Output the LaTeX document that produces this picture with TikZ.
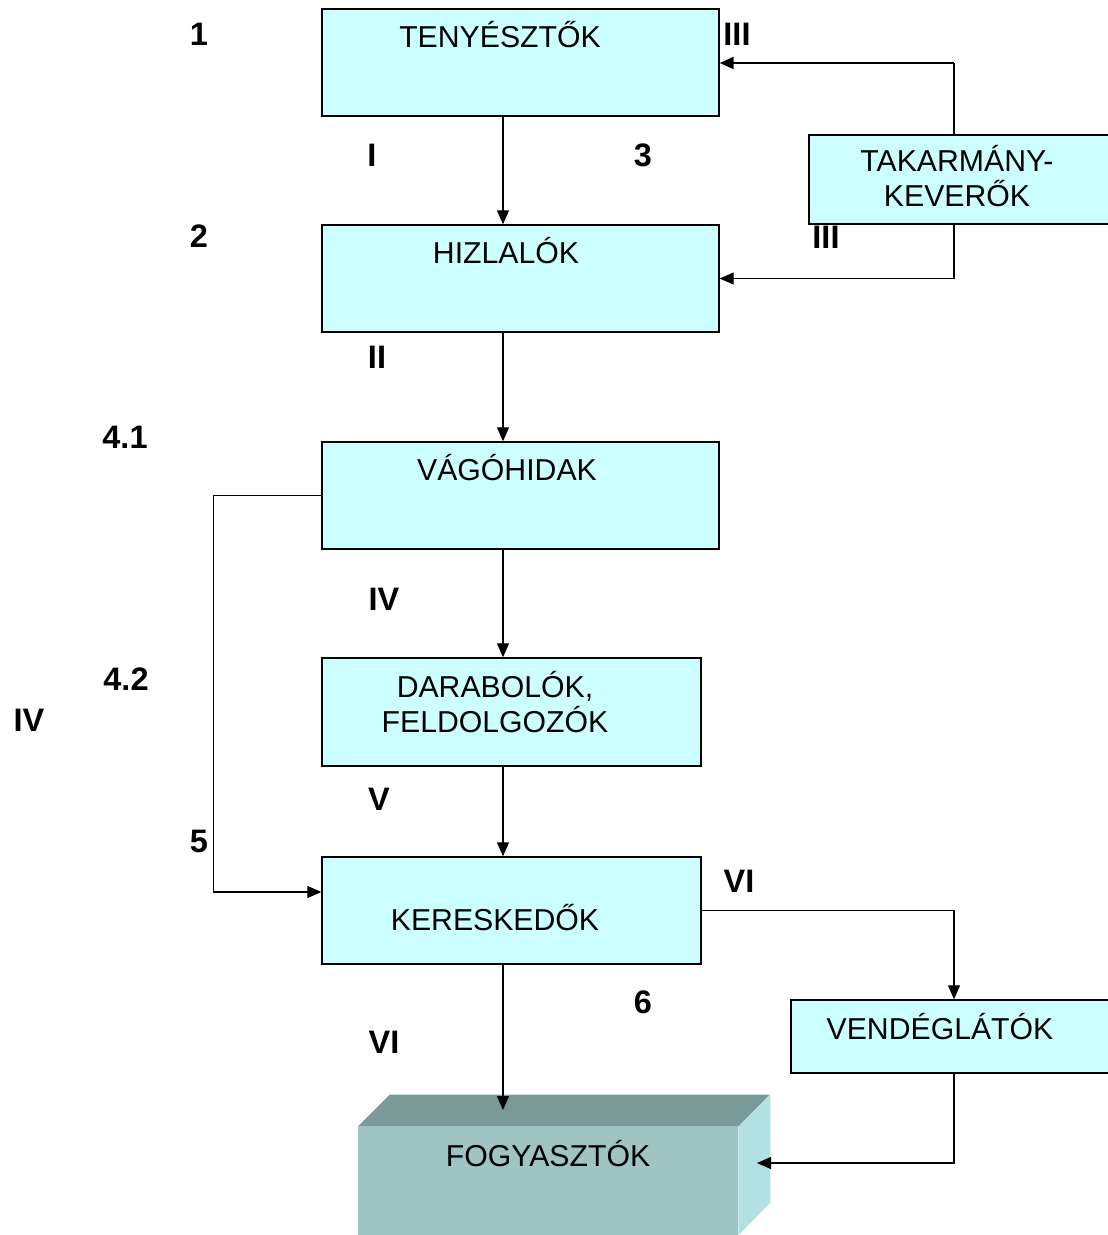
\documentclass[tikz,border=0pt]{standalone}
\usepackage{fontspec}
\setmainfont{Liberation Sans}
\usepackage{tikz}
\usetikzlibrary{arrows.meta}
\usetikzlibrary{positioning}

\definecolor{boxfill}{HTML}{CCFFFF}
\definecolor{fogyfront}{HTML}{9EC4C4}
\definecolor{fogytop}{HTML}{7A9A98}
\definecolor{fogyside}{HTML}{B3E1E1}

\begin{document}
\begin{tikzpicture}[
        x=0.02cm, y=-0.02cm,
        >={Triangle[length=0.28cm, width=0.24cm]},
        stage/.style={rectangle, draw=black, line width=0.8pt, fill=boxfill},
        stagetext/.style={align=center, inner sep=0pt, font=\fontsize{17.2}{19.5}\selectfont},
        num/.style={inner sep=0pt, font=\bfseries\fontsize{18.5}{20}\selectfont},
        flow/.style={draw, line width=0.65pt, ->}
    ]
    \useasboundingbox (0,0) rectangle (1107,1235);

    % --- 1. SZAMOK ---
    \node[num] (n1) at (199, 34) {1};
    \node[num] (n2) at (199, 236) {2};
    \node[num] (n3) at (643, 155) {3};
    \node[num] (n41) at (125, 437) {4.1};
    \node[num] (n42) at (126, 679) {4.2};
    \node[num] (n5) at (199, 841) {5};
    \node[num] (n6) at (643, 1002) {6};

    \node[num] (rI) at (372, 155) {I};
    \node[num] (rII) at (377, 357) {II};
    \node[num] (rIIIa) at (737, 34) {III};
    \node[num] (rIIIb) at (826, 237) {III};
    \node[num] (rIVa) at (384, 599) {IV};
    \node[num] (rIVb) at (29, 720) {IV};
    \node[num] (rV) at (379, 799) {V};
    \node[num] (rVIa) at (739, 881) {VI};
    \node[num] (rVIb) at (384, 1042) {VI};

    % --- 2. DOBOZOK ---
    \node[stage, minimum width=7.94cm, minimum height=2.14cm] (teny) at (520.5, 62.5) {};
    \node[stage, minimum width=7.94cm, minimum height=2.14cm] (hizl) at (520.5, 278.5) {};
    \node[stage, minimum width=7.94cm, minimum height=2.14cm] (vago) at (520.5, 495.5) {};
    \node[stage, minimum width=7.58cm, minimum height=2.16cm] (darab) at (511.5, 712) {};
    \node[stage, minimum width=7.58cm, minimum height=2.14cm] (keres) at (511.5, 910.5) {};
    \node[stage, minimum width=6.12cm, minimum height=1.78cm] (taka) at (962, 179.5) {};
    \node[stage, minimum width=6.48cm, minimum height=1.46cm] (vend) at (953, 1036.5) {};

    % fogyasztok (hasab)
    \node[rectangle, fill=fogyfront, minimum width=7.6cm, minimum height=2.16cm, inner sep=0pt] (fogy) at (548, 1181) {};
    \fill[fogytop] (fogy.north west) -- ++(32,-32) -- ++(380,0) -- (fogy.north east) -- cycle;
    \fill[fogyside] (fogy.north east) -- ++(32,-32) -- ++(0,108) -- (fogy.south east) -- cycle;

    % feliratok
    \node[stagetext] (tenyt) at (500, 35) {TENYÉSZTŐK};
    \node[stagetext] (hizlt) at (506, 251) {HIZLALÓK};
    \node[stagetext] (vagot) at (507, 468) {VÁGÓHIDAK};
    \node[stagetext] (darabt) at (495, 702) {DARABOLÓK,\\FELDOLGOZÓK};
    \node[stagetext] (kerest) at (495, 918) {KERESKEDŐK};
    \node[stagetext] (takat) at (957, 176) {TAKARMÁNY-\\KEVERŐK};
    \node[stagetext] (vendt) at (940, 1027) {VENDÉGLÁTÓK};
    \node[stagetext] (fogyt) at (548, 1154) {FOGYASZTÓK};

    % --- 3. NYILAK ---
    \coordinate (spine) at (503, 0);
    \coordinate (feed) at (954, 63);
    \coordinate (fogyin) at (503, 1110);
    \coordinate (fogyoldal) at (757, 1163);

    \draw[flow] (teny.south -| spine) -- (hizl.north -| spine);
    \draw[flow] (hizl.south -| spine) -- (vago.north -| spine);
    \draw[flow] (vago.south -| spine) -- (darab.north -| spine);
    \draw[flow] (darab.south -| spine) -- (keres.north -| spine);
    \draw[flow] (keres.south -| spine) -- (fogyin);

    \draw[flow] (vago.west) -- ++(-108,0) |- ([yshift=0.37cm]keres.west);
    \draw[flow] (keres.east) -| (vend.north -| feed);
    \draw[flow] (vend.south -| feed) |- (fogyoldal);

    \draw[line width=0.65pt] (taka.north -| feed) -- (feed);
    \draw[flow, line width=1.2pt] (feed) -- (teny.east |- feed);
    \draw[flow] (taka.south -| feed) |- (hizl.east);

\end{tikzpicture}
\end{document}
